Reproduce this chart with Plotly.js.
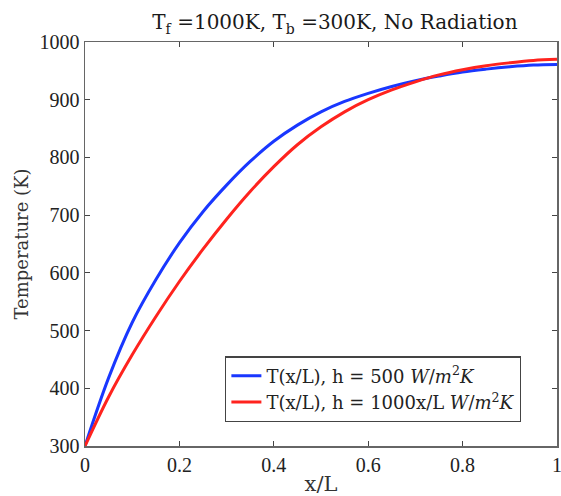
<!DOCTYPE html>
<html>
<head>
<meta charset="utf-8">
<script src="https://cdn.plot.ly/plotly-3.0.1.min.js"></script>
<style>html,body{margin:0;padding:0;background:#fff;}#chart{width:561px;height:496px;}</style>
</head>
<body>
<div id="chart"></div>
<script>
var xPos = [0, 0.05, 0.1, 0.15, 0.2, 0.25, 0.3, 0.35, 0.4, 0.45, 0.5, 0.55, 0.6, 0.65, 0.7, 0.75, 0.8, 0.85, 0.9, 0.95, 1];
var tempH500 = [300, 418, 514, 588, 652, 706, 752, 793, 828, 856, 879, 897, 911, 923, 933, 941, 948, 953, 957, 960, 961];
var tempHvar = [300, 385, 458, 524, 585, 641, 693, 741, 784, 822, 853, 879, 900, 917, 931, 943, 952, 959, 964, 968, 970];
var seriesNames = ["T(x/L), h = 500 <i>W</i>/<i>m</i><sup>2</sup><i>K</i>", "T(x/L), h = 1000x/L <i>W</i>/<i>m</i><sup>2</sup><i>K</i>"];
var xTicks = [0, 0.2, 0.4, 0.6, 0.8, 1];
var xTickText = ["0", "0.2", "0.4", "0.6", "0.8", "1"];
var yTicks = [300, 400, 500, 600, 700, 800, 900, 1000];

var serif = "Liberation Serif, Times New Roman, serif";
var traces = [
  {x: xPos, y: tempH500, name: seriesNames[0], mode: "lines", line: {color: "rgb(25,55,255)", width: 3, shape: "spline"}},
  {x: xPos, y: tempHvar, name: seriesNames[1], mode: "lines", line: {color: "rgb(255,35,30)", width: 3, shape: "spline"}}
];
var axisCommon = {
  showline: true, linecolor: "#666", linewidth: 1.5, mirror: "allticks",
  ticks: "inside", ticklen: 5, tickcolor: "#444", tickwidth: 1.2,
  showgrid: false, zeroline: false, ticklabeloverflow: "allow",
  tickfont: {family: serif, size: 20, color: "#222"}
};
var layout = {
  width: 561, height: 496,
  margin: {l: 85, r: 4, t: 42, b: 50},
  paper_bgcolor: "#fff", plot_bgcolor: "#fff",
  showlegend: true,
  title: {text: "T<sub>f</sub> =1000K, T<sub>b</sub> =300K, No Radiation", x: 0.597, xanchor: "center", y: 0.955, yanchor: "middle",
    font: {family: "DejaVu Serif, serif", size: 20, color: "#1a1a1a"}},
  xaxis: Object.assign({}, axisCommon, {range: [0, 1], tickvals: xTicks, ticktext: xTickText,
    title: {text: "x/L", font: {family: "DejaVu Serif, serif", size: 21, color: "#333"}, standoff: 2}}),
  yaxis: Object.assign({}, axisCommon, {range: [300, 1000], tickvals: yTicks,
    title: {text: "Temperature (K)", font: {family: "DejaVu Serif, serif", size: 18, color: "#333"}, standoff: 6}}),
  legend: {x: 0.297, y: 0.222, xanchor: "left", yanchor: "top", bgcolor: "#fff", bordercolor: "#444", borderwidth: 1.2,
    font: {family: "DejaVu Serif, serif", size: 18, color: "#222"}, tracegroupgap: 0, itemwidth: 30}
};
Plotly.newPlot("chart", traces, layout, {displayModeBar: false, staticPlot: true});
</script>
</body>
</html>
